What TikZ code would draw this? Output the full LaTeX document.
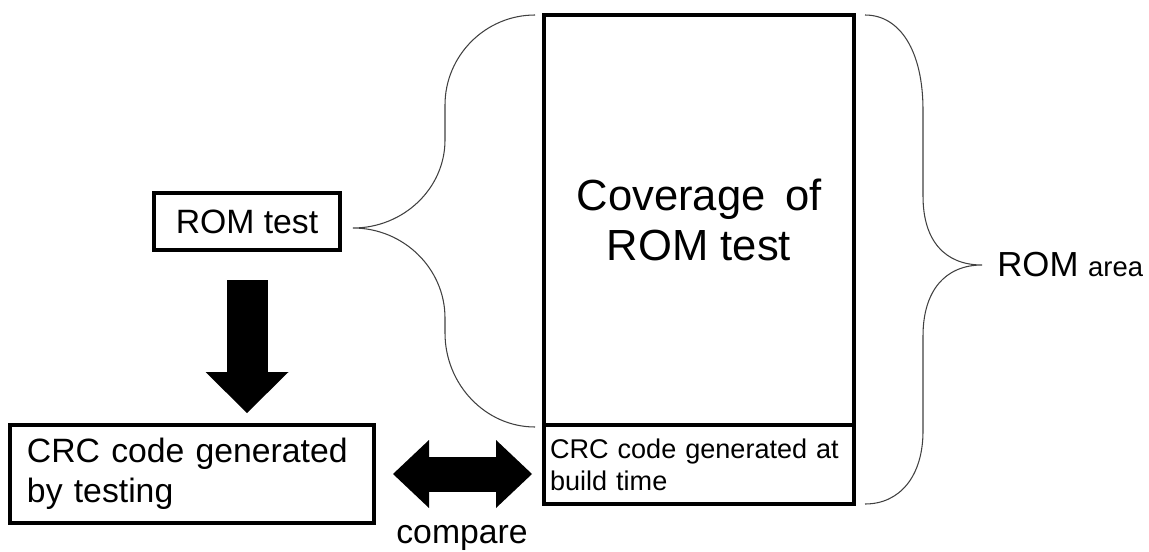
\documentclass[tikz,border=0pt]{standalone}
\usepackage{fontspec}
\setmainfont{Liberation Sans}
\usetikzlibrary{positioning,arrows.meta}

\tikzset{
  box/.style={draw,line width=2pt,outer sep=0pt,inner sep=0pt},
  curly/.style={line width=0.6pt,black!75},
  fatdown/.style={line width=8.2mm,-{Triangle[length=8.2mm,width=16.6mm,line width=0pt]}},
  fatboth/.style={line width=7mm,{Triangle[length=7.2mm,width=13.6mm,line width=0pt]}-{Triangle[length=7.2mm,width=13.6mm,line width=0pt]}}
}

\begin{document}
\begin{tikzpicture}[font=\fontsize{19.2}{22.8}\selectfont]
  \useasboundingbox (0,0) rectangle (22.98,11.02);

  % memory block: tested part on top, stored CRC at the bottom
  \node[box,minimum width=6.2cm,minimum height=8.2cm,align=center,
        font=\fontsize{24.8}{28.5}\selectfont] (cover) at (13.98,6.62)
        {Coverage\hspace{0.45em}of\\ROM test};
  \node[box,below=0pt of cover,minimum height=1.58cm,text width=5.96cm,
        inner xsep=0.12cm,align=left,font=\fontsize{15.4}{18.2}\selectfont]
        (crcbuild) {CRC code generated at\\build time};

  \node[box,minimum width=3.72cm,minimum height=1.14cm] (romtest) at (4.94,6.59) {ROM test};
  \node[box,minimum height=1.96cm,text width=6.6cm,inner xsep=0.34cm,align=left]
        (crcgen) at (3.84,1.54) {CRC code generated\\by testing};

  \node[anchor=west,inner sep=0pt,font=\fontsize{19.8}{22.8}\selectfont] (romarea) at (19.94,5.72)
        {ROM {\fontsize{15.6}{18}\selectfont area}};
  \node (cmp) at (9.24,0.27) {compare};

  % block arrows
  \draw[fatdown,shorten <=0.6cm,shorten >=0.24cm]
       (romtest.south) -- (romtest.south |- crcgen.north);
  \draw[fatboth,shorten <=0.38cm,shorten >=0.24cm]
       (crcgen.east) -- (crcgen.east -| crcbuild.west);

  % braces
  \coordinate (lt) at ([xshift=-1.8mm]cover.north west);
  \coordinate (lb) at ([xshift=-1.8mm,yshift=-0.4mm]cover.south west);
  \coordinate (lc) at (7.06,6.46);
  \draw[curly] (lt) .. controls (9.71,10.72) and (8.9,9.91) .. (8.9,8.92)
    -- (8.9,8.22) .. controls (8.9,7.25) and (8.07,6.46) .. (lc)
    .. controls (8.07,6.46) and (8.9,5.65) .. (8.9,4.66)
    -- (8.9,4.36) .. controls (8.9,3.33) and (9.71,2.48) .. (lb);

  \coordinate (rt) at ([xshift=2.2mm]cover.north east);
  \coordinate (rb) at ([xshift=2.2mm]crcbuild.south east);
  \coordinate (rc) at ([xshift=-3mm]romarea.west);
  \draw[curly] (rt) .. controls (18.0,10.72) and (18.46,10.0) .. (18.46,8.82)
    -- (18.46,7.1) .. controls (18.46,6.2) and (18.9,5.72) .. (rc)
    .. controls (18.9,5.72) and (18.46,5.2) .. (18.46,4.3)
    -- (18.46,2.4) .. controls (18.46,1.5) and (18.0,0.94) .. (rb);
\end{tikzpicture}
\end{document}
